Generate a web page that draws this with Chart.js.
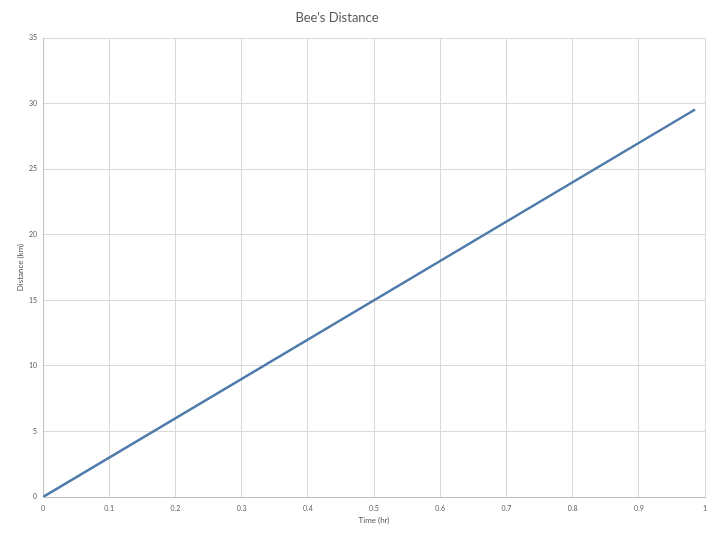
<!DOCTYPE html>
<html><head><meta charset="utf-8">
<script src="https://cdn.jsdelivr.net/npm/chart.js@4"></script>
<style>html,body{margin:0;padding:0;background:#fff}#c{display:block}</style>
</head><body>
<canvas id="c" width="720" height="540"></canvas>
<script>
const timeHr = [0, 0.985];
const distanceKm = [0, 29.55];
const xTicks = [0,0.1,0.2,0.3,0.4,0.5,0.6,0.7,0.8,0.9,1];
const yTicks = [0,5,10,15,20,25,30,35];
const titleText = "Bee's Distance";
const xTitle = "Time (hr)";
const yTitle = "Distance (km)";

const gridColor = '#d9d9d9';
const textColor = '#595959';
const FONT = 'Lato, "Open Sans", sans-serif';

const titlePlugin = {
  id: 'offsetTitle',
  afterDraw(chart) {
    const ctx = chart.ctx;
    ctx.save();
    ctx.font = '13px ' + FONT;
    ctx.fillStyle = textColor;
    ctx.textAlign = 'center';
    ctx.textBaseline = 'middle';
    ctx.fillText(titleText, 337, 18);
    ctx.restore();
  }
};

new Chart(document.getElementById('c'), {
  type: 'scatter',
  data: {
    datasets: [{
      data: timeHr.map((t,i)=>({x:t,y:distanceKm[i]})),
      showLine: true,
      borderColor: '#4f7bab',
      borderWidth: 2.5,
      pointRadius: 0,
      fill: false
    }]
  },
  plugins: [titlePlugin],
  options: {
    responsive: false,
    animation: false,
    layout: {padding: {left: 0, right: 15, top: 38, bottom: 0}},
    plugins: {
      legend: {display: false},
      tooltip: {enabled: false},
      title: {display: false}
    },
    scales: {
      x: {
        type: 'linear', min: 0, max: 1,
        afterBuildTicks: s => { s.ticks = xTicks.map(v=>({value:v})); },
        afterFit: s => { s.height = 43; },
        grid: {color: gridColor, drawTicks: false},
        border: {color: '#bfbfbf'},
        ticks: {color: textColor, font: {family: FONT, size: 7}, padding: 8,
          maxRotation: 0, callback: v => String(Number(v.toFixed(1)))},
        title: {display: true, text: xTitle, color: textColor,
          font: {family: FONT, size: 8}, padding: {top: 2, bottom: 15}}
      },
      y: {
        type: 'linear', min: 0, max: 35,
        afterBuildTicks: s => { s.ticks = yTicks.map(v=>({value:v})); },
        afterFit: s => { s.width = 43; },
        grid: {color: gridColor, drawTicks: false},
        border: {color: '#bfbfbf'},
        ticks: {color: textColor, font: {family: FONT, size: 7}, padding: 6},
        title: {display: true, text: yTitle, color: textColor,
          font: {family: FONT, size: 8}, padding: {top: 16, bottom: 4}}
      }
    }
  }
});
</script>
</body></html>
